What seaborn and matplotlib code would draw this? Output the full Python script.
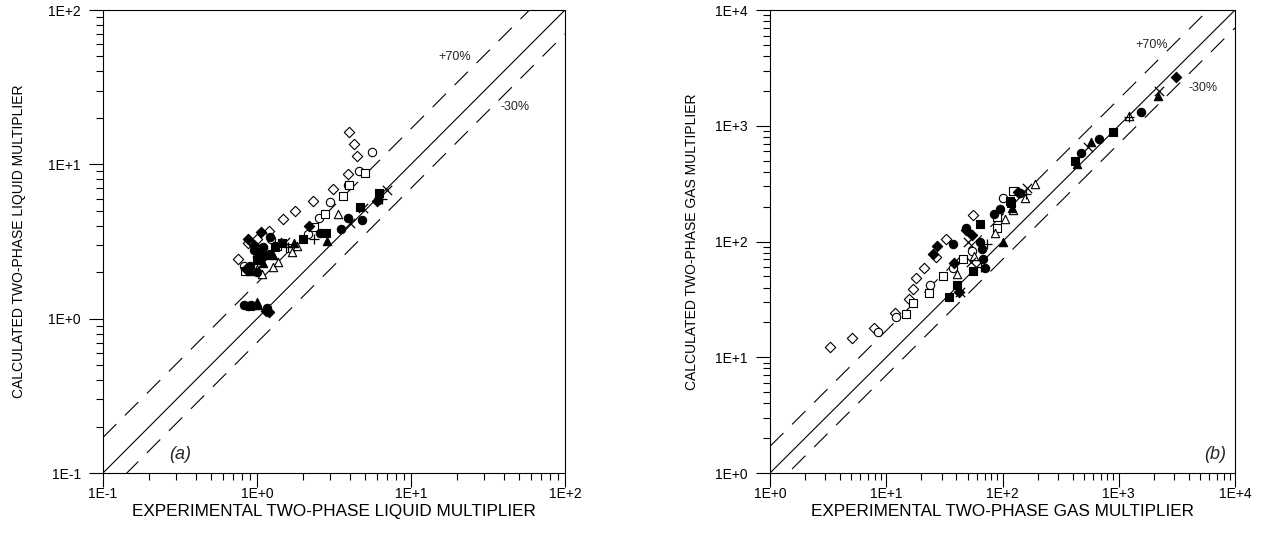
import numpy as np
import pandas as pd
import matplotlib
matplotlib.use("Agg")
import matplotlib.pyplot as plt
import seaborn as sns
from matplotlib.ticker import LogLocator, FuncFormatter, NullFormatter

# -------------------------------
# Data: (experimental, calculated) pairs
# -------------------------------
# (a) liquid multiplier
liq_open_diamond = [(0.75, 2.45), (0.875, 3.1), (1.0, 3.3), (1.2, 3.7), (1.48, 4.4), (1.77, 5.0),
                    (2.31, 5.8), (3.12, 6.9), (3.9, 8.6), (4.46, 11.3), (4.27, 13.5), (3.95, 16.1)]
liq_open_circle = [(0.82, 2.18), (1.0, 2.5), (1.23, 3.3), (2.14, 3.56), (2.53, 4.46), (2.98, 5.7),
                   (3.9, 7.3), (4.6, 9.1), (5.6, 12.0)]
liq_open_square = [(0.83, 2.05), (1.1, 2.6), (1.35, 2.98), (1.65, 2.85), (2.35, 3.9), (2.77, 4.8),
                   (3.6, 6.2), (3.95, 7.3), (5.0, 8.75)]
liq_open_triangle = [(1.0, 2.1), (1.08, 1.96), (1.27, 2.15), (1.37, 2.34), (1.69, 2.72),
                     (1.82, 2.94), (3.36, 4.8)]
liq_filled_circle = [(0.82, 1.22), (0.88, 1.2), (0.92, 1.22), (1.16, 1.18), (0.9, 2.2), (1.0, 2.0),
                     (0.95, 2.8), (1.05, 2.4), (1.1, 2.9), (1.21, 3.36), (2.56, 3.6), (3.5, 3.84),
                     (3.9, 4.5), (4.8, 4.33), (6.1, 5.9)]
liq_filled_square = [(0.9, 1.2), (1.0, 2.4), (1.2, 2.6), (1.3, 2.9), (1.45, 3.1), (1.99, 3.26),
                     (2.8, 3.6), (4.65, 5.33), (6.2, 6.5)]
liq_filled_triangle = [(1.0, 1.28), (1.02, 1.22), (0.9, 2.05), (1.1, 2.3), (1.27, 2.6),
                       (1.74, 3.1), (2.87, 3.2)]
liq_filled_diamond = [(1.15, 1.13), (1.2, 1.1), (0.85, 2.1), (1.1, 2.5), (1.0, 2.7), (0.95, 3.0),
                      (0.88, 3.3), (1.06, 3.67), (2.17, 4.0), (6.0, 5.8)]
liq_cross = [(1.1, 2.7), (1.52, 3.14), (4.0, 4.2), (4.9, 5.2), (7.0, 6.8)]
liq_plus = [(1.25, 2.8), (1.6, 2.9), (2.34, 3.3), (6.5, 6.0)]

# (b) gas multiplier
gas_open_diamond = [(3.29, 12.2), (5.1, 14.6), (7.9, 17.8), (11.9, 24), (15.8, 31.6), (17, 39),
                    (18.2, 48), (21.3, 58.5), (27, 74), (32.9, 106), (56, 171)]
gas_open_circle = [(8.5, 16.4), (12.2, 22.1), (23.9, 41.8), (37.8, 58.5), (55, 83), (100, 240)]
gas_open_square = [(14.9, 23.5), (17, 29.2), (23.4, 35.6), (31, 50), (46, 70), (90, 130),
                   (90, 164), (124, 275)]
gas_open_triangle = [(41, 52), (57, 75), (87, 119), (106, 155), (124, 189), (155, 240),
                     (192, 316), (1220, 1220)]
gas_filled_circle = [(37.8, 96), (49, 132), (64, 100), (67, 87), (68, 71), (71, 59.5),
                     (84, 173), (96, 192), (142, 265), (470, 585), (673, 773), (1550, 1320)]
gas_filled_square = [(34.9, 32.9), (41, 42.5), (56, 56), (64, 142), (117, 226), (119, 214),
                     (418, 500), (887, 887)]
gas_filled_triangle = [(100, 100), (121, 196), (434, 470), (580, 730), (2170, 1800)]
gas_filled_diamond = [(25.4, 78.8), (27.4, 90.6), (38.6, 65.6), (42.6, 37), (49, 125),
                      (55, 113), (137, 269), (3100, 2645)]
gas_cross = [(43, 37), (50, 100), (54, 66), (163, 292), (540, 660), (2210, 2000)]
gas_plus = [(65, 60), (73, 95), (158, 258), (1220, 1180)]

# marker style per series: (marker, filled)
styles = {
    "open_diamond": ("D", False), "open_circle": ("o", False), "open_square": ("s", False),
    "open_triangle": ("^", False), "filled_circle": ("o", True), "filled_square": ("s", True),
    "filled_triangle": ("^", True), "filled_diamond": ("D", True), "cross": ("x", True),
    "plus": ("+", True),
}

liq_sets = {"open_diamond": liq_open_diamond, "open_circle": liq_open_circle,
            "open_square": liq_open_square, "open_triangle": liq_open_triangle,
            "filled_circle": liq_filled_circle, "filled_square": liq_filled_square,
            "filled_triangle": liq_filled_triangle, "filled_diamond": liq_filled_diamond,
            "cross": liq_cross, "plus": liq_plus}
gas_sets = {"open_diamond": gas_open_diamond, "open_circle": gas_open_circle,
            "open_square": gas_open_square, "open_triangle": gas_open_triangle,
            "filled_circle": gas_filled_circle, "filled_square": gas_filled_square,
            "filled_triangle": gas_filled_triangle, "filled_diamond": gas_filled_diamond,
            "cross": gas_cross, "plus": gas_plus}

# -------------------------------
# Style
# -------------------------------
sns.set_theme(style="ticks")
plt.rcParams["font.family"] = ["Liberation Sans", "DejaVu Sans"]


def sci_fmt(v, pos):
    e = int(round(np.log10(v)))
    return f"1E{'+' if e >= 0 else '-'}{abs(e)}"


def draw_panel(ax, sets, lo, hi, xlabel, ylabel, tag, tag_xy, p70_xy, m30_xy, ypad):
    ref = np.array([lo, hi])
    ax.plot(ref, ref, color="black", lw=0.8)
    ax.plot(ref, ref * 1.7, color="black", lw=0.8, linestyle=(0, (17, 11)))
    ax.plot(ref, ref * 0.7, color="black", lw=0.8, linestyle=(0, (17, 11)))

    for name, pts in sets.items():
        marker, filled = styles[name]
        df = pd.DataFrame(pts, columns=["x", "y"])
        if marker in ("x", "+"):
            sns.scatterplot(data=df, x="x", y="y", ax=ax, marker=marker, color="black",
                            s=45, linewidth=0.9, zorder=3)
        else:
            sns.scatterplot(data=df, x="x", y="y", ax=ax, marker=marker,
                            color="black" if filled else "white", edgecolor="black",
                            s=28 if marker == "D" else 36, linewidth=0.8, zorder=3)

    ax.set_xscale("log")
    ax.set_yscale("log")
    ax.set_xlim(lo, hi)
    ax.set_ylim(lo, hi)
    for a in (ax.xaxis, ax.yaxis):
        a.set_major_locator(LogLocator(base=10))
        a.set_minor_locator(LogLocator(base=10, subs=np.arange(2, 10)))
        a.set_major_formatter(FuncFormatter(sci_fmt))
        a.set_minor_formatter(NullFormatter())
    ax.tick_params(which="major", direction="out", length=10, width=0.8, labelsize=10,
                   color="black", labelcolor="black", pad=6)
    ax.tick_params(axis="x", which="major", pad=0)
    ax.tick_params(which="minor", direction="out", length=5, width=0.8, color="black")
    ax.tick_params(top=False, right=False, which="both")
    for sp in ax.spines.values():
        sp.set_visible(True)
        sp.set_color("black")
        sp.set_linewidth(0.8)
    ax.set_xlabel(xlabel, fontsize=12.3, color="black", labelpad=2)
    ax.set_ylabel(ylabel, fontsize=10, color="black", labelpad=ypad)
    ax.text(*p70_xy, "+70%", transform=ax.transAxes, fontsize=9, ha="center", va="center")
    ax.text(*m30_xy, "-30%", transform=ax.transAxes, fontsize=9, ha="center", va="center")
    ax.text(*tag_xy, tag, transform=ax.transAxes, fontsize=13, style="italic",
            ha="center", va="center")


fig = plt.figure(figsize=(12.65, 5.39), dpi=100)
ax1 = fig.add_axes([0.0814, 0.1224, 0.3652, 0.859])
ax2 = fig.add_axes([0.6087, 0.1224, 0.3676, 0.859])

draw_panel(ax1, liq_sets, 0.1, 100, "EXPERIMENTAL TWO-PHASE LIQUID MULTIPLIER",
           "CALCULATED TWO-PHASE LIQUID MULTIPLIER", "(a)", (0.167, 0.04),
           (0.762, 0.898), (0.892, 0.79), 15.5)
draw_panel(ax2, gas_sets, 1, 10000, "EXPERIMENTAL TWO-PHASE GAS MULTIPLIER",
           "CALCULATED TWO-PHASE GAS MULTIPLIER", "(b)", (0.957, 0.04),
           (0.82, 0.924), (0.931, 0.832), 11.5)

fig.savefig("out.png", dpi=100, facecolor="white")
